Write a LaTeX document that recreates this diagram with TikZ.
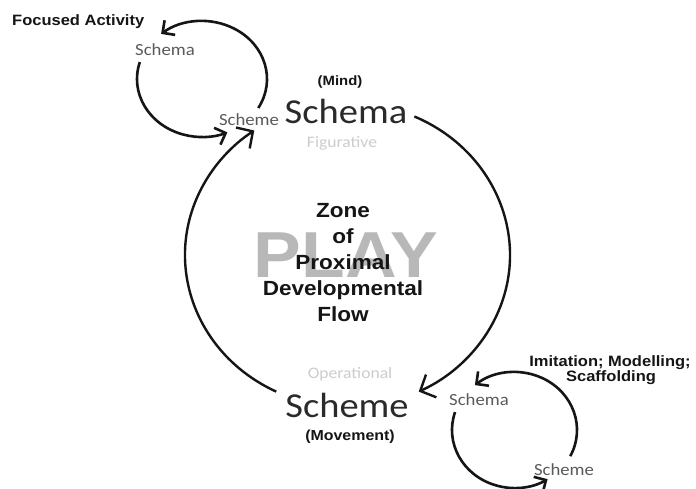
\documentclass[tikz,border=0pt]{standalone}
\usepackage{fontspec}
\usetikzlibrary{arrows.meta}
\newfontfamily\labfont[FakeStretch=1.1]{Liberation Sans}
\newfontfamily\calfont[FakeStretch=1.1]{Carlito}
\newcommand\myfs[1]{\fontsize{#1pt}{#1pt}\selectfont}
\definecolor{smallgrey}{HTML}{5A5A5A}
\definecolor{bigtext}{HTML}{2A2A2A}
\definecolor{faint}{HTML}{CDCDCD}
\definecolor{playgrey}{HTML}{B8B8B8}
\definecolor{ink}{HTML}{151515}
\tikzset{
  txt/.style={inner sep=0pt, anchor=base},
  boldlab/.style={txt, text=ink, font={\labfont\bfseries\myfs{15}}},
  smalllab/.style={txt, text=smallgrey, font={\calfont\myfs{17}}},
  biglab/.style={txt, text=bigtext, font={\calfont\myfs{35}}},
  faintlab/.style={txt, text=faint, font={\calfont\myfs{16}}},
  zonelab/.style={txt, text=ink, font={\labfont\bfseries\myfs{20.5}}},
  loop/.style={draw=ink, line width=2.6pt, -{Straight Barb[length=9pt,width=18pt]}},
  bigloop/.style={draw=ink, line width=2.4pt, -{Straight Barb[length=12pt,width=25pt]}},
}
\begin{document}
\begin{tikzpicture}[x=1pt,y=-1pt]
\useasboundingbox[fill=white] (0,0) rectangle (696,488);

% background word
\node[txt, text=playgrey, font={\labfont\bfseries\myfs{65}}] (play) at (346,277) {PLAY};

% zone text
\node[zonelab] (zone) at (343,217) {Zone};
\node[zonelab] (of) at (343,243) {of};
\node[zonelab] (prox) at (343,269) {Proximal};
\node[zonelab] (devel) at (343,295) {Developmental};
\node[zonelab] (flow) at (343,321) {Flow};

% top
\node[boldlab, font={\labfont\bfseries\myfs{13.5}}] (mind) at (340,85) {(Mind)};
\node[biglab] (schemaBig) at (346,123) {Schema};
\node[faintlab] (figur) at (342,147) {Figurative};
\node[smalllab] (schemeTL) at (249,125) {Scheme};
\node[smalllab] (schemaTL) at (165,55) {Schema};
\node[boldlab, anchor=base west] (focus) at (12,25) {Focused Activity};

% bottom
\node[faintlab] (oper) at (350,378) {Operational};
\node[biglab] (schemeBig) at (347,417) {Scheme};
\node[boldlab, font={\labfont\bfseries\myfs{14.5}}] (move) at (350,440) {(Movement)};
\node[smalllab] (schemaBR) at (479,405) {Schema};
\node[smalllab] (schemeBR) at (564,475) {Scheme};
\node[boldlab] (imit) at (610,366) {Imitation; Modelling;};
\node[boldlab] (scaff) at (611,381) {Scaffolding};

% big cycle
\coordinate (bigc) at (347.5,255);
\draw[bigloop] (bigc) ++(-244:162.5 and 152) arc[start angle=-244, end angle=-125, x radius=162.5, y radius=152];
\draw[bigloop] (bigc) ++(-65.7:162.5 and 152) arc[start angle=-65.7, end angle=64, x radius=162.5, y radius=152];

% top-left loop
\coordinate (tlc) at (202,79);
\draw[loop] (tlc) ++(30:65 and 58) arc[start angle=30, end angle=-129, x radius=65, y radius=58];
\draw[loop] (tlc) ++(-163:65 and 58) arc[start angle=-163, end angle=-293, x radius=65, y radius=58];

% bottom-right loop
\coordinate (brc) at (514.5,430);
\draw[loop] (brc) ++(26.8:62.5 and 58) arc[start angle=26.8, end angle=-129.3, x radius=62.5, y radius=58];
\draw[loop] (brc) ++(-162:62.5 and 58) arc[start angle=-162, end angle=-302, x radius=62.5, y radius=58];
\end{tikzpicture}
\end{document}
